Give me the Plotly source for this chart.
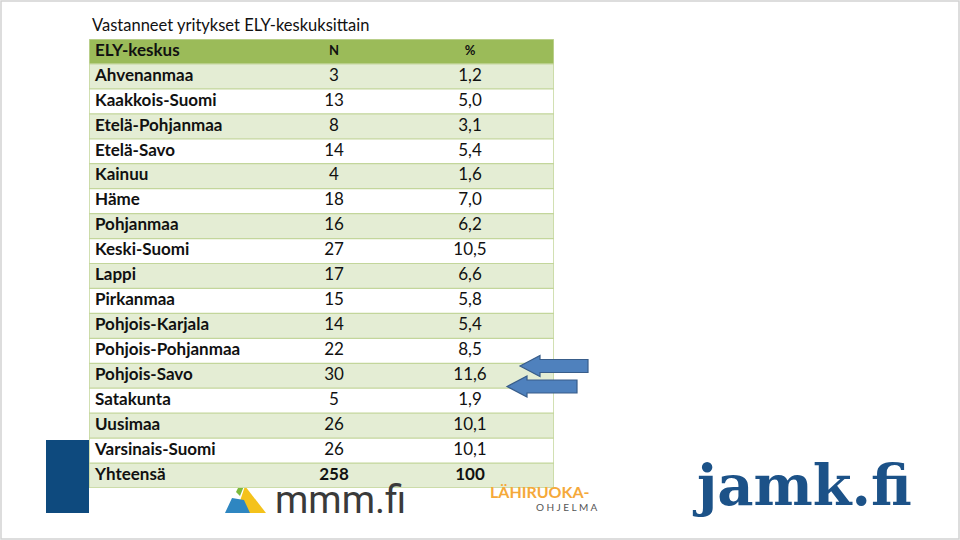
import plotly.graph_objects as go

title = "Vastanneet yritykset ELY-keskuksittain"
header = ["ELY-keskus", "N", "%"]
regions = ["Ahvenanmaa", "Kaakkois-Suomi", "Etelä-Pohjanmaa", "Etelä-Savo", "Kainuu", "Häme",
           "Pohjanmaa", "Keski-Suomi", "Lappi", "Pirkanmaa", "Pohjois-Karjala",
           "Pohjois-Pohjanmaa", "Pohjois-Savo", "Satakunta", "Uusimaa", "Varsinais-Suomi"]
n_values = [3, 13, 8, 14, 4, 18, 16, 27, 17, 15, 14, 22, 30, 5, 26, 26]
pct_values = ["1,2", "5,0", "3,1", "5,4", "1,6", "7,0", "6,2", "10,5", "6,6", "5,8", "5,4",
              "8,5", "11,6", "1,9", "10,1", "10,1"]
total_label = "Yhteensä"
total_n = 258
total_pct = "100"

W, H = 960, 540
def px(x):
    return x / W
def py(y):
    return 1 - y / H

TL, TR, TT, TB = 89, 554, 39, 488   # table box in pixels
TW = TR - TL
col_x = [6, 245, 381]               # text anchors within table (px from its left edge)

body_rows = list(range(1, len(regions) + 1))
total_row = len(regions) + 1
nrows = total_row + 1

FONT = "Lato"
FS = 17
TXT = "#111111"
GREEN_ROW = "#E4EDD4"
HEAD = "#9BBB59"
LINE = "#C3D69B"

fig = go.Figure()

# header text
fig.add_trace(go.Scatter(x=[col_x[0]], y=[0], mode="text", text=["<b>%s</b>" % header[0]],
                         textposition="middle right", textfont=dict(family=FONT, size=FS, color=TXT),
                         hoverinfo="skip"))
fig.add_trace(go.Scatter(x=col_x[1:], y=[0, 0], mode="text", text=["<b>%s</b>" % h for h in header[1:]],
                         textposition="middle center", textfont=dict(family=FONT, size=13, color=TXT),
                         hoverinfo="skip"))
# body
fig.add_trace(go.Scatter(x=[col_x[0]] * len(regions), y=body_rows, mode="text",
                         text=["<b>%s</b>" % r for r in regions], textposition="middle right",
                         textfont=dict(family=FONT, size=FS, color=TXT), hoverinfo="skip"))
fig.add_trace(go.Scatter(x=[col_x[1]] * len(n_values), y=body_rows, mode="text",
                         text=[str(v) for v in n_values], textposition="middle center",
                         textfont=dict(family=FONT, size=FS, color=TXT), hoverinfo="skip"))
fig.add_trace(go.Scatter(x=[col_x[2]] * len(pct_values), y=body_rows, mode="text",
                         text=pct_values, textposition="middle center",
                         textfont=dict(family=FONT, size=FS, color=TXT), hoverinfo="skip"))
# total
fig.add_trace(go.Scatter(x=[col_x[0]], y=[total_row], mode="text", text=["<b>%s</b>" % total_label],
                         textposition="middle right", textfont=dict(family=FONT, size=FS, color=TXT),
                         hoverinfo="skip"))
fig.add_trace(go.Scatter(x=col_x[1:], y=[total_row, total_row], mode="text",
                         text=["<b>%d</b>" % total_n, "<b>%s</b>" % total_pct],
                         textposition="middle center", textfont=dict(family=FONT, size=FS, color=TXT),
                         hoverinfo="skip"))

shapes = []
# slide border
shapes.append(dict(type="rect", xref="paper", yref="paper", x0=px(1), x1=px(959), y0=py(539), y1=py(1),
                   line=dict(color="#D2D2D2", width=1.5), fillcolor="rgba(0,0,0,0)", layer="below"))
# dark blue bar
shapes.append(dict(type="rect", xref="paper", yref="paper", x0=px(46), x1=px(89), y0=py(513), y1=py(440),
                   line=dict(width=0), fillcolor="#0E4A7E", layer="below"))
# row fills
for i in range(nrows):
    if i == 0:
        c = HEAD
    elif i % 2 == 1:
        c = GREEN_ROW
    else:
        c = "white"
    shapes.append(dict(type="rect", xref="x", yref="y", x0=0, x1=TW, y0=i - 0.5, y1=i + 0.5,
                       fillcolor=c, line=dict(width=0), layer="below"))
# row separators
for i in range(1, nrows):
    shapes.append(dict(type="line", xref="x", yref="y", x0=0, x1=TW, y0=i - 0.5, y1=i - 0.5,
                       line=dict(color=LINE, width=1.2), layer="below"))
# outer border
shapes.append(dict(type="rect", xref="x", yref="y", x0=0, x1=TW, y0=-0.5, y1=nrows - 0.5,
                   fillcolor="rgba(0,0,0,0)", line=dict(color=LINE, width=1.5), layer="below"))

def arrow(tip_x, cy, head_len, head_half, shaft_end, shaft_half):
    pts = [(tip_x, cy), (tip_x + head_len, cy - head_half), (tip_x + head_len, cy - shaft_half),
           (shaft_end, cy - shaft_half), (shaft_end, cy + shaft_half), (tip_x + head_len, cy + shaft_half),
           (tip_x + head_len, cy + head_half)]
    d = "M " + " L ".join("%f,%f" % (px(x), py(y)) for x, y in pts) + " Z"
    return dict(type="path", xref="paper", yref="paper", path=d,
                fillcolor="#4F81BD", line=dict(color="#385D8A", width=1.2), layer="above")

shapes.append(arrow(520, 366, 20, 10.5, 588, 6.5))
shapes.append(arrow(507, 386.5, 20, 10.5, 577, 6.5))

def poly(pts, color):
    d = "M " + " L ".join("%f,%f" % (px(x), py(y)) for x, y in pts) + " Z"
    return dict(type="path", xref="paper", yref="paper", path=d, fillcolor=color,
                line=dict(width=0), layer="below")
shapes.append(poly([(245, 486), (266, 513), (236, 513)], "#F4C21B"))
shapes.append(poly([(225, 513), (232, 498), (244, 500), (250, 513)], "#2E86C1"))
shapes.append(poly([(236, 492), (240, 484), (244, 486), (240, 496)], "#7DBA3C"))

annotations = [
    dict(text=title, x=px(90), y=py(25), xref="paper", yref="paper", xanchor="left", yanchor="middle",
         showarrow=False, font=dict(family=FONT, size=16.5, color=TXT)),
    dict(text="mmm.fi", x=px(273), y=py(500), xref="paper", yref="paper", xanchor="left", yanchor="middle",
         showarrow=False, font=dict(family="Roboto", size=38, color="#3A3A3A")),
    dict(text="<b>LÄHIRUOKA-</b>", x=px(488), y=py(491), xref="paper", yref="paper", xanchor="left",
         yanchor="middle", showarrow=False, font=dict(family=FONT, size=16, color="#F5A93A")),
    dict(text="O H J E L M A", x=px(566), y=py(507), xref="paper", yref="paper", xanchor="center",
         yanchor="middle", showarrow=False, font=dict(family=FONT, size=10, color="#555555")),
    dict(text="<b>jamk.fi</b>", x=px(802), y=py(485), xref="paper", yref="paper", xanchor="center",
         yanchor="middle", showarrow=False, font=dict(family="DejaVu Serif", size=56, color="#1C5288")),
]

fig.update_layout(width=W, height=H, margin=dict(l=0, r=0, t=0, b=0),
                  paper_bgcolor="white", plot_bgcolor="rgba(0,0,0,0)",
                  shapes=shapes, annotations=annotations, showlegend=False,
                  xaxis=dict(domain=[px(TL), px(TR)], range=[0, TW], visible=False, fixedrange=True),
                  yaxis=dict(domain=[py(TB), py(TT)], range=[nrows - 0.5, -0.5], visible=False,
                             fixedrange=True))
fig.write_html("out.html", config={"displayModeBar": False},
               post_script="document.body.style.margin='0';document.body.style.overflow='hidden';")
